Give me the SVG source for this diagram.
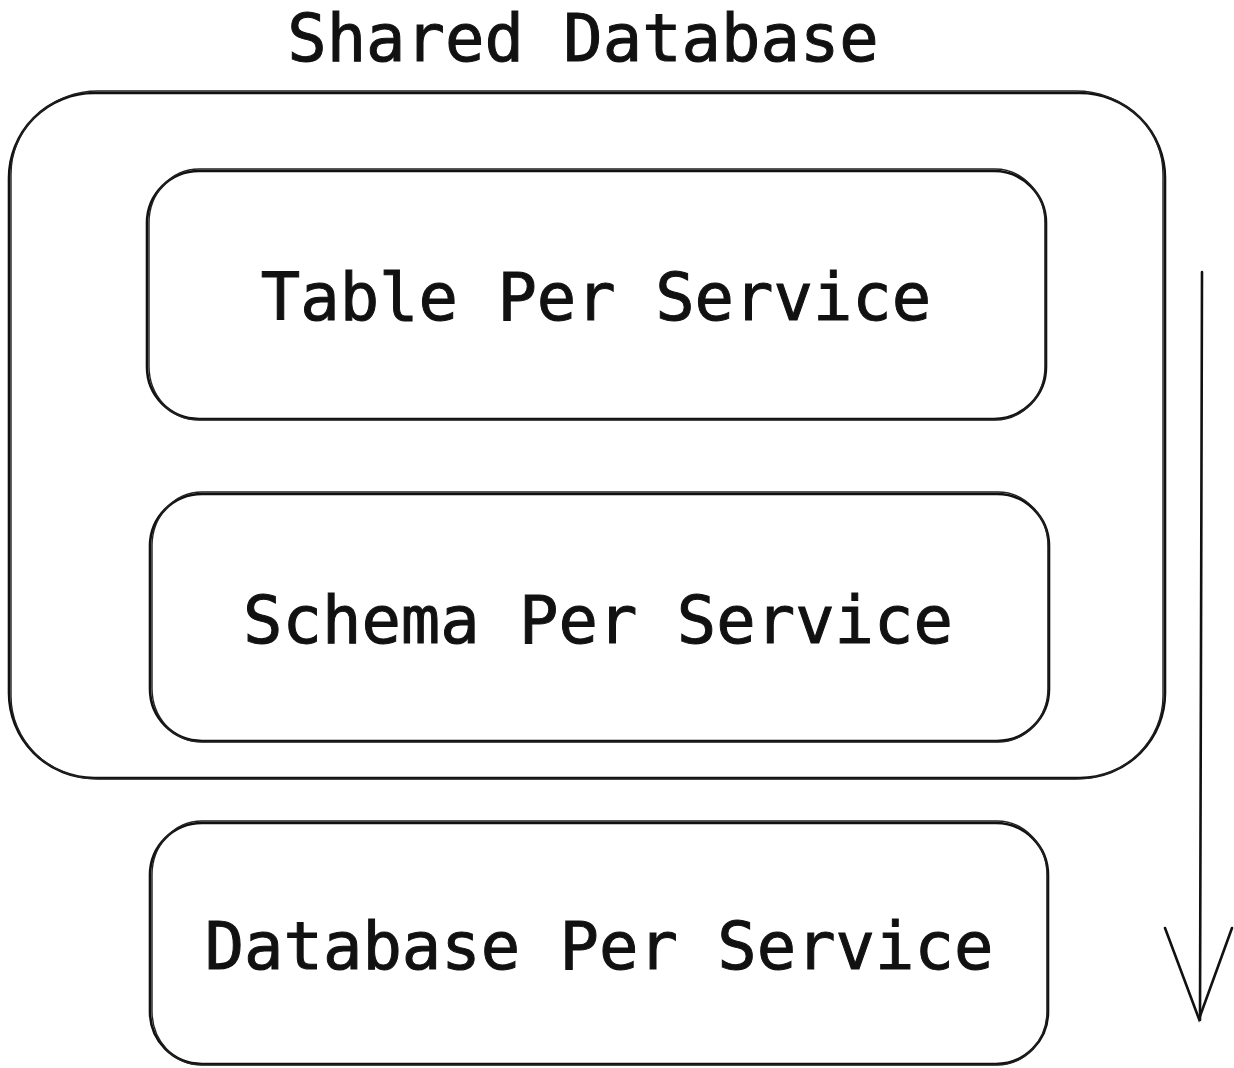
<svg xmlns="http://www.w3.org/2000/svg" width="1234" height="1068" viewBox="0 0 1234 1068">
<style>
.box{fill:none;stroke:#111;stroke-width:2.6}
.box2{fill:none;stroke:#222;stroke-width:1.4}
.lbl{font-family:"DejaVu Sans Mono","Liberation Mono",monospace;font-size:65.5px;fill:#111;stroke:#111;stroke-width:1;text-anchor:middle}
.ln{fill:none;stroke:#111;stroke-width:2.6;stroke-linecap:round}
</style>
<rect width="1234" height="1068" fill="#fff"/>
<text x="583" y="61" class="lbl">Shared Database</text>
<g id="shared-database">
<rect class="box" x="9" y="93" width="1156" height="685" rx="85" ry="85"/>
<rect class="box2" x="11" y="91" width="1152" height="688" rx="87" ry="83"/>
</g>
<g id="table-per-service">
<rect class="box" x="147" y="171" width="899" height="248" rx="52" ry="52"/>
<rect class="box2" x="149" y="169" width="896" height="251" rx="50" ry="54"/>
<text x="596" y="320" class="lbl">Table Per Service</text>
</g>
<g id="schema-per-service">
<rect class="box" x="150" y="494" width="899" height="247" rx="52" ry="52"/>
<rect class="box2" x="152" y="492" width="896" height="250" rx="50" ry="54"/>
<text x="598" y="643" class="lbl">Schema Per Service</text>
</g>
<g id="database-per-service">
<rect class="box" x="150" y="823" width="898" height="241" rx="52" ry="52"/>
<rect class="box2" x="152" y="821" width="895" height="244" rx="50" ry="54"/>
<text x="599" y="969" class="lbl">Database Per Service</text>
</g>
<g id="connectors">
<path class="ln" d="M1202 272 L1200 1020"/>
<path class="ln" d="M1165 928 L1199 1019 L1232 928"/>
</g>
</svg>
